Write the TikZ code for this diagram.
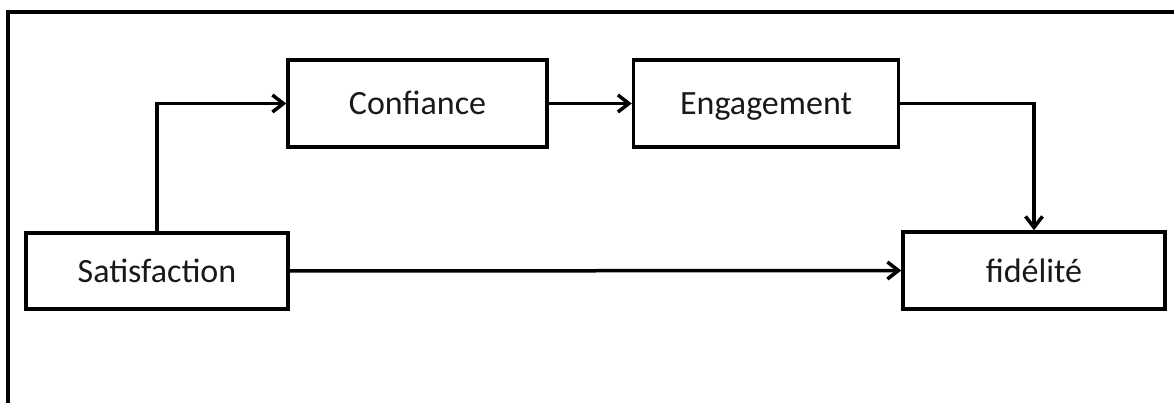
\documentclass[tikz,border=0pt]{standalone}
\usepackage{fontspec}
\setmainfont{Carlito}
\usetikzlibrary{arrows.meta}
\begin{document}
\begin{tikzpicture}[x=1pt,y=-1pt,
  box/.style={draw=black, line width=3.5pt, rectangle, inner sep=0pt,
    font=\fontsize{34}{40}\selectfont, text=black!90,
    text height=28pt, text depth=5pt},
  link/.style={draw=black, line width=3.5pt,
    -{Straight Barb[length=11pt,width=17pt,line width=3.5pt]}},
  frame/.style={draw=black, line width=3.5pt}]
  \useasboundingbox (0,0) rectangle (1174,403);
  % open frame around the model
  \coordinate (fbl) at (8,410);
  \coordinate (ftl) at (8,12);
  \coordinate (ftr) at (1180,12);
  \draw[frame] (fbl) -- (ftl) -- (ftr);
  % constructs
  \node[box, minimum width=262pt, minimum height=76pt] (sat) at (157,271) {Satisfaction};
  \node[box, minimum width=259pt, minimum height=87pt] (conf) at (417.5,103.5) {Confiance};
  \node[box, minimum width=265pt, minimum height=87pt] (eng) at (766,103.5) {Engagement};
  \node[box, minimum width=262pt, minimum height=77pt] (fid) at (1034,270.5) {fidélité};
  % relations
  \draw[link] (sat.north) |- (conf.west);
  \draw[link] (conf.east) -- (eng.west);
  \draw[link] (eng.east) -| (fid.north);
  \draw[link] (sat.east) -- (fid.west);
\end{tikzpicture}
\end{document}
